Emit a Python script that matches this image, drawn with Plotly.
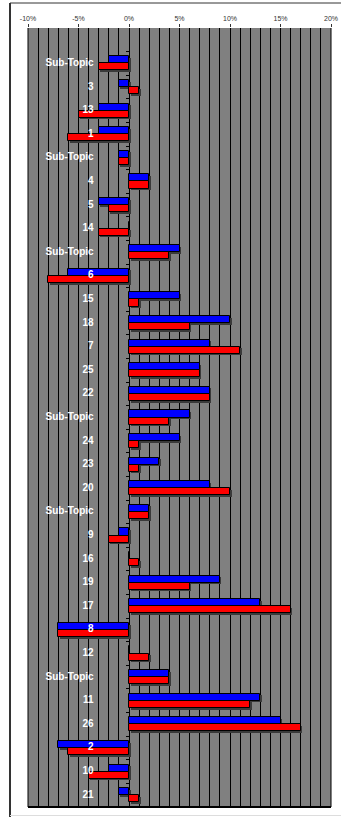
import plotly.graph_objects as go

# Topic labels, top to bottom
topics = ["Sub-Topic", "3", "13", "1", "Sub-Topic", "4", "5", "14", "Sub-Topic", "6",
          "15", "18", "7", "25", "22", "Sub-Topic", "24", "23", "20", "Sub-Topic",
          "9", "16", "19", "17", "8", "12", "Sub-Topic", "11", "26", "2", "10", "21"]

# Percentage change per topic for the two series
series_blue = [-2, -1, -3, -3, -1, 2, -3, 0, 5, -6, 5, 10, 8, 7, 8, 6, 5, 3, 8, 2,
               -1, 0, 9, 13, -7, 0, 4, 13, 15, -7, -2, -1]
series_red = [-3, 1, -5, -6, -1, 2, -2, -3, 4, -8, 1, 6, 11, 7, 8, 4, 1, 1, 10, 2,
              -2, 1, 6, 16, -7, 2, 4, 12, 17, -6, -4, 1]

x_ticks = [-10, -5, 0, 5, 10, 15, 20]
x_tick_text = ["-10%", "-5%", "0%", "5%", "10%", "15%", "20%"]

W, H = 341, 817
ML, MR, MT, MB = 28, 10, 28, 10
X_MIN, X_MAX = -10, 20

pos = list(range(len(topics)))

fig = go.Figure()

# soft drop shadow behind each bar
shadow_dx = 0.15
shadow_dy = 0.07
for vals, off in ((series_blue, -0.3), (series_red, 0.0)):
    fig.add_trace(go.Bar(
        x=vals, y=pos, orientation="h", base=shadow_dx,
        offset=off + shadow_dy, width=0.3,
        marker=dict(color="#3a3a3a", line=dict(width=0)),
        hoverinfo="skip", showlegend=False,
    ))

fig.add_trace(go.Bar(
    x=series_blue, y=pos, orientation="h", offset=-0.3, width=0.3,
    marker=dict(color="#0000FF", line=dict(color="#000000", width=1)),
    showlegend=False,
))
fig.add_trace(go.Bar(
    x=series_red, y=pos, orientation="h", offset=0.0, width=0.3,
    marker=dict(color="#FF0000", line=dict(color="#000000", width=1)),
    showlegend=False,
))

# topic labels sit left of the zero line
fig.add_trace(go.Scatter(
    x=[-3.5] * len(topics), y=pos, mode="text", text=topics,
    textposition="middle left",
    textfont=dict(family="Arial, Liberation Sans, sans-serif", size=10,
                  color="#ffffff", weight="bold"),
    hoverinfo="skip", showlegend=False, cliponaxis=False,
))

zero_frac = (0 - X_MIN) / (X_MAX - X_MIN)

fig.update_layout(
    width=W, height=H,
    margin=dict(l=ML, r=MR, t=MT, b=MB, pad=0, autoexpand=False),
    paper_bgcolor="#ffffff",
    plot_bgcolor="#808080",
    barmode="overlay",
    bargap=0,
    xaxis=dict(
        range=[X_MIN, X_MAX], side="top", automargin=False,
        tickvals=x_ticks, ticktext=x_tick_text,
        tickfont=dict(family="Arial, Liberation Sans, sans-serif", size=7, color="#333333"),
        ticks="outside", ticklen=3, tickcolor="#333333", tickwidth=1,
        showgrid=True, gridcolor="#000000", gridwidth=1,
        minor=dict(dtick=1, showgrid=True, gridcolor="#000000", gridwidth=1, ticks=""),
        zeroline=True, zerolinecolor="#000000", zerolinewidth=1,
        showline=False, fixedrange=True,
    ),
    yaxis=dict(
        range=[len(topics) - 0.5, -1.5], automargin=False,
        anchor="free", position=zero_frac,
        tickvals=[p - 0.5 for p in pos], showticklabels=False,
        ticks="outside", ticklen=3, tickcolor="#000000", tickwidth=1,
        showgrid=False, zeroline=False, showline=False, fixedrange=True,
    ),
    shapes=[
        # plot area edges (left, right, bottom)
        dict(type="line", xref="x domain", yref="y domain", x0=0, x1=0, y0=0, y1=1,
             line=dict(color="#000000", width=1)),
        dict(type="line", xref="x domain", yref="y domain", x0=1, x1=1, y0=0, y1=1,
             line=dict(color="#000000", width=1)),
        dict(type="line", xref="x domain", yref="y domain", x0=0, x1=1, y0=0, y1=0,
             line=dict(color="#000000", width=2)),
        # chart area frame
        dict(type="line", xref="paper", yref="paper",
             x0=(10 - ML) / (W - ML - MR), x1=(10 - ML) / (W - ML - MR),
             y0=(H - MB - 817) / (H - MT - MB), y1=(H - MB - 3) / (H - MT - MB),
             line=dict(color="#333333", width=2)),
        dict(type="line", xref="paper", yref="paper",
             x0=(10 - ML) / (W - ML - MR), x1=(W - ML) / (W - ML - MR),
             y0=(H - MB - 3) / (H - MT - MB), y1=(H - MB - 3) / (H - MT - MB),
             line=dict(color="#333333", width=1)),
        dict(type="line", xref="paper", yref="paper",
             x0=(10 - ML) / (W - ML - MR), x1=(W - ML) / (W - ML - MR),
             y0=(H - MB - 815.5) / (H - MT - MB), y1=(H - MB - 815.5) / (H - MT - MB),
             line=dict(color="#dddddd", width=1)),
    ],
)

fig.write_html("out.html", config={"displayModeBar": False})
